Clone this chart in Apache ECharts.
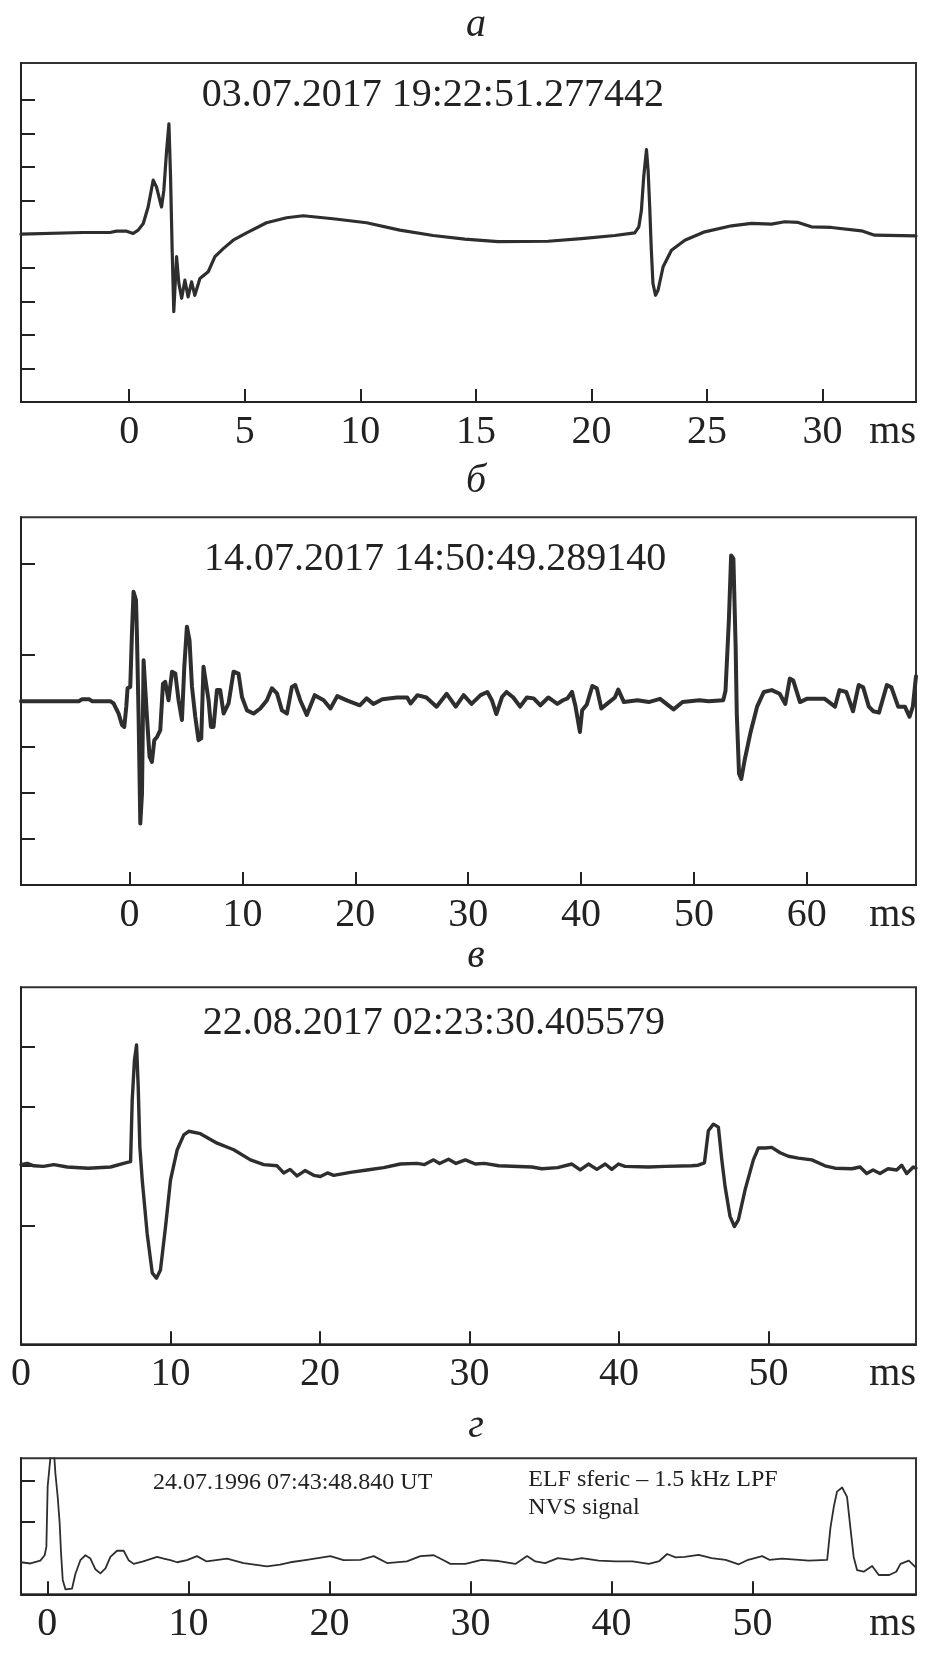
<!DOCTYPE html>
<html>
<head>
<meta charset="utf-8">
<script src="https://cdn.jsdelivr.net/npm/echarts@6/dist/echarts.min.js"></script>
<style>
html,body{margin:0;padding:0;background:#fff;}
#chart{width:930px;height:1654px;}
</style>
</head>
<body>
<div id="chart"></div>
<script>
// ---------- DATA (time in ms, amplitude in tick units) ----------
const panelLetters = ['а', 'б', 'в', 'г'];
const panelTitles = ['03.07.2017 19:22:51.277442', '14.07.2017 14:50:49.289140', '22.08.2017 02:23:30.405579', '24.07.1996 07:43:48.840 UT'];
const panelDNotes = ['ELF sferic – 1.5 kHz LPF', 'NVS signal'];
const unitLabel = 'ms';

const aXTicks = [0, 5, 10, 15, 20, 25, 30];
const bXTicks = [0, 10, 20, 30, 40, 50, 60];
const cXTicks = [0, 10, 20, 30, 40, 50];
const dXTicks = [0, 10, 20, 30, 40, 50];
const aYTicks = [-4, -3, -2, -1, 0, 1, 2, 3, 4];
const bYTicks = [-3, -2, -1, 0, 1, 3];
const cYTicks = [-1, 0, 1, 2];
const dYTicks = [1, 2];

const aSignal = [[-4.68,0],[-2.0,0.05],[-0.83,0.05],[-0.55,0.09],[-0.11,0.09],[0.17,0.02],[0.39,0.12],[0.61,0.32],[0.82,0.81],[1.04,1.61],[1.18,1.41],[1.40,0.81],[1.50,1.31],[1.62,2.5],[1.72,3.29],[1.79,1.71],[1.86,-0.48],[1.93,-2.31],[2.05,-0.67],[2.15,-1.47],[2.27,-1.91],[2.41,-1.37],[2.55,-1.87],[2.70,-1.42],[2.84,-1.82],[3.06,-1.32],[3.42,-1.12],[3.71,-0.67],[4.07,-0.43],[4.50,-0.18],[5.08,0.04],[5.94,0.34],[6.81,0.49],[7.53,0.55],[8.82,0.46],[10.27,0.34],[11.71,0.12],[13.15,-0.04],[14.52,-0.15],[15.96,-0.22],[18.12,-0.21],[19.57,-0.13],[21.01,-0.04],[21.87,0.04],[22.05,0.22],[22.16,0.71],[22.26,1.71],[22.38,2.52],[22.45,1.90],[22.52,0.81],[22.59,-0.48],[22.66,-1.47],[22.77,-1.82],[22.88,-1.67],[23.10,-0.97],[23.46,-0.48],[24.04,-0.18],[24.90,0.07],[26.06,0.25],[26.92,0.32],[27.79,0.30],[28.36,0.37],[28.94,0.35],[29.51,0.22],[30.38,0.20],[31.68,0.10],[32.25,-0.03],[34.04,-0.05]];

const bSignal = [[-9.62,0],[-4.5,0],[-4.2,0.04],[-3.6,0.04],[-3.3,0],[-1.71,0],[-1.42,-0.05],[-0.97,-0.27],[-0.67,-0.52],[-0.47,-0.56],[-0.29,-0.12],[-0.18,0.28],[0.06,0.31],[0.21,1.47],[0.35,2.38],[0.57,2.20],[0.65,1.47],[0.80,-0.34],[0.95,-2.66],[1.10,-2.01],[1.24,0.89],[1.39,0.89],[1.54,-0.34],[1.77,-1.21],[1.98,-1.32],[2.19,-0.85],[2.43,-0.78],[2.72,-0.63],[2.96,0.38],[3.16,0.42],[3.45,0.02],[3.76,0.64],[4.05,0.60],[4.34,0.02],[4.64,-0.41],[4.85,0.75],[5.08,1.62],[5.31,1.33],[5.53,0.31],[5.82,-0.34],[6.11,-0.85],[6.35,-0.81],[6.55,0.75],[6.71,0.78],[7.00,0.02],[7.21,-0.56],[7.44,-0.56],[7.74,0.24],[8.03,0.24],[8.33,-0.27],[8.77,-0.05],[9.21,0.64],[9.65,0.60],[9.96,0.09],[10.40,-0.20],[10.98,-0.27],[11.58,-0.16],[12.17,0.02],[12.61,0.28],[13.06,0.17],[13.50,-0.20],[13.94,-0.27],[14.38,0.31],[14.68,0.35],[15.12,0.02],[15.7,-0.30],[16.4,0.13],[17.2,0.02],[17.8,-0.16],[18.4,0.11],[19.3,0.01],[20.4,-0.09],[21.0,0.06],[21.6,-0.06],[22.4,0.04],[23.7,0.08],[24.6,0.08],[24.9,-0.05],[25.5,0.13],[26.3,0.08],[27.2,-0.12],[28.1,0.16],[28.9,-0.12],[29.6,0.13],[30.3,-0.06],[31.1,0.13],[31.7,0.20],[32.1,0.02],[32.5,-0.28],[33.0,0.09],[33.4,0.20],[34.0,0.08],[34.6,-0.12],[35.2,0.08],[35.8,0.06],[36.4,-0.09],[37.1,0.08],[37.9,-0.06],[38.4,0.02],[38.8,0.06],[39.2,0.20],[39.5,-0.10],[39.9,-0.67],[40.1,-0.20],[40.5,-0.08],[41.0,0.33],[41.4,0.28],[41.8,-0.16],[42.3,-0.06],[43.0,0.08],[43.3,0.25],[43.8,-0.02],[45.0,0.02],[46.0,-0.02],[47.0,0.05],[48.2,-0.18],[49.0,-0.02],[50.5,0.02],[51.3,0.00],[52.6,0.02],[52.8,0.22],[53.1,1.76],[53.3,3.17],[53.5,3.10],[53.7,1.18],[53.8,-0.27],[54.0,-1.58],[54.2,-1.69],[54.5,-1.28],[55.0,-0.70],[55.6,-0.12],[56.2,0.20],[56.9,0.24],[57.6,0.16],[58.1,-0.06],[58.5,0.49],[58.8,0.45],[59.4,-0.02],[60.0,0.05],[61.6,0.05],[62.5,-0.12],[62.9,0.24],[63.5,0.20],[64.1,-0.22],[64.6,0.35],[65.0,0.30],[65.5,-0.12],[65.9,-0.22],[66.4,-0.25],[67.1,0.35],[67.5,0.30],[68.1,-0.12],[68.7,-0.12],[69.1,-0.34],[69.4,-0.12],[69.68,0.54]];

const cSignal = [[0,0.02],[0.42,0.04],[0.86,0.0],[1.5,-0.01],[2.2,0.02],[3.09,-0.02],[4.5,-0.04],[5.99,-0.02],[6.99,0.05],[7.33,0.07],[7.44,1.11],[7.59,1.78],[7.73,2.03],[7.84,1.33],[7.95,0.32],[8.11,-0.24],[8.44,-1.14],[8.78,-1.80],[9.06,-1.89],[9.33,-1.75],[9.67,-1.02],[10.0,-0.24],[10.45,0.27],[10.89,0.52],[11.22,0.58],[12.0,0.54],[13.12,0.38],[14.23,0.27],[15.35,0.10],[16.24,0.02],[17.13,0.0],[17.57,-0.12],[18.0,-0.06],[18.47,-0.17],[19.0,-0.08],[19.58,-0.16],[20.03,-0.18],[20.5,-0.12],[20.92,-0.16],[22.03,-0.11],[23.15,-0.07],[24.26,-0.03],[25.37,0.03],[26.49,0.04],[27.0,0.02],[27.6,0.10],[28.0,0.04],[28.6,0.11],[29.1,0.04],[29.72,0.10],[30.39,0.03],[31.0,0.04],[31.95,0.0],[34.18,-0.02],[34.85,-0.05],[35.9,-0.03],[36.85,0.03],[37.41,-0.07],[37.96,0.03],[38.52,-0.06],[39.08,0.03],[39.52,-0.06],[39.97,0.03],[40.4,-0.01],[41.97,-0.02],[43.1,-0.01],[44.87,0.00],[45.3,0.01],[45.72,0.05],[45.98,0.59],[46.32,0.70],[46.65,0.65],[46.88,0.10],[47.10,-0.35],[47.43,-0.85],[47.72,-1.02],[47.99,-0.91],[48.44,-0.40],[48.99,0.10],[49.33,0.30],[49.8,0.30],[50.22,0.31],[50.78,0.22],[51.33,0.16],[52.0,0.13],[52.9,0.10],[53.78,0.0],[54.45,-0.04],[55.57,-0.05],[56.13,-0.02],[56.57,-0.13],[57.0,-0.07],[57.46,-0.13],[58.0,-0.05],[58.58,-0.07],[58.91,0.01],[59.25,-0.13],[59.69,-0.02],[59.87,-0.04]];

const dSignal = [[-1.87,0.02],[-1.2,-0.01],[-0.50,0.06],[-0.19,0.19],[-0.07,0.40],[0.02,1.86],[0.16,1.90],[0.28,2.8],[0.45,2.8],[0.57,2.18],[0.73,1.62],[0.87,0.98],[0.97,0.24],[1.09,-0.41],[1.28,-0.64],[1.40,-0.66],[1.75,-0.62],[1.99,-0.26],[2.34,0.07],[2.70,0.19],[3.05,0.11],[3.40,-0.15],[3.76,-0.25],[4.12,-0.13],[4.47,0.15],[4.94,0.30],[5.41,0.30],[5.76,0.07],[6.12,-0.02],[6.8,0.04],[7.78,0.15],[8.25,0.11],[8.72,0.07],[9.2,0.02],[9.9,0.07],[10.61,0.17],[11.3,0.04],[12.74,0.11],[13.92,0.0],[15.58,-0.08],[16.5,-0.04],[17.23,0.02],[18.4,0.08],[20.07,0.17],[21.0,0.07],[22.2,0.08],[23.14,0.17],[24.09,0.0],[25.5,0.04],[26.45,0.17],[27.40,0.19],[28.1,0.07],[28.58,-0.02],[29.65,-0.02],[30.8,0.08],[32.0,0.05],[33.19,-0.02],[34.02,0.17],[34.6,0.04],[35.3,0.0],[36.2,0.12],[37.21,0.08],[37.9,0.12],[39.1,0.06],[40.3,0.04],[41.5,0.04],[42.65,-0.02],[43.4,0.05],[43.95,0.22],[44.55,0.14],[45.2,0.15],[46.19,0.20],[47.1,0.12],[48.1,0.08],[49.03,-0.03],[49.7,0.08],[50.69,0.17],[51.2,0.08],[52.1,0.11],[53.3,0.08],[54.0,0.06],[55.30,0.08],[55.53,0.85],[55.77,1.37],[56.0,1.74],[56.36,1.84],[56.71,1.61],[56.95,0.85],[57.18,0.15],[57.42,-0.17],[57.89,-0.21],[58.49,-0.07],[58.96,-0.29],[59.7,-0.29],[60.2,-0.21],[60.5,-0.02],[61.09,0.06],[61.6,-0.11]];

// ---------- LAYOUT ----------
const FONT = '"Liberation Serif", "Times New Roman", serif';
const INK = '#222';
const LINE = '#2e2e2e';

const panels = [
  { top: 63,     height: 339,   xMin: -4.68, xMax: 34.04, yMin: -5,    yMax: 5.1,  xTicks: aXTicks, xLabels: aXTicks, yTicks: aYTicks, data: aSignal, lw: 3.2 },
  { top: 517.3,  height: 367.7, xMin: -9.62, xMax: 69.68, yMin: -4,    yMax: 4,    xTicks: bXTicks, xLabels: bXTicks, yTicks: bYTicks, data: bSignal, lw: 4 },
  { top: 987.3,  height: 357,   xMin: 0,     xMax: 59.87, yMin: -3,    yMax: 3,    xTicks: cXTicks, xLabels: cXTicks, yTicks: cYTicks, data: cSignal, lw: 3.4 },
  { top: 1458.3, height: 136,   xMin: -1.87, xMax: 61.6,  yMin: -0.76, yMax: 2.55, xTicks: dXTicks, xLabels: dXTicks, yTicks: dYTicks, data: dSignal, lw: 1.8 }
];

const LABEL_MARGIN = 10;
const LABEL_SIZE = 40;

const grids = [], xAxes = [], yAxes = [], series = [], graphics = [];
panels.forEach((p, i) => {
  grids.push({ left: 21, right: 14, top: p.top, height: p.height, show: true, borderColor: '#333', borderWidth: 2, backgroundColor: 'transparent' });
  xAxes.push({
    type: 'value', gridIndex: i, min: p.xMin, max: p.xMax,
    axisLine: { show: true, onZero: false, lineStyle: { color: INK, width: 2 } },
    axisTick: { show: true, inside: true, length: 13, lineStyle: { color: INK, width: 2 }, customValues: p.xTicks },
    axisLabel: { show: true, customValues: p.xLabels, margin: LABEL_MARGIN, fontFamily: FONT, fontSize: LABEL_SIZE, color: INK },
    splitLine: { show: false }
  });
  yAxes.push({
    type: 'value', gridIndex: i, min: p.yMin, max: p.yMax,
    axisLine: { show: true, onZero: false, lineStyle: { color: INK, width: 2 } },
    axisTick: { show: true, inside: true, length: 14, lineStyle: { color: INK, width: 2 }, customValues: p.yTicks },
    axisLabel: { show: false },
    splitLine: { show: false }
  });
  series.push({
    type: 'line', xAxisIndex: i, yAxisIndex: i, data: p.data,
    showSymbol: false, symbol: 'none', clip: true, silent: true,
    lineStyle: { color: LINE, width: p.lw, join: 'round', cap: 'round' }
  });
  // unit label at the right end of the x axis
  graphics.push({
    type: 'text', x: 916, y: p.top + p.height + LABEL_MARGIN + LABEL_SIZE / 2,
    style: { text: unitLabel, font: LABEL_SIZE + 'px ' + FONT, fill: INK, align: 'right', verticalAlign: 'middle' }
  });
});

// panel letters
const letterY = [25.7, 481.4, 956.4, 1426.4];
panelLetters.forEach((t, i) => {
  graphics.push({ type: 'text', x: 476, y: letterY[i],
    style: { text: t, font: 'italic 40px ' + FONT, fill: INK, align: 'center', verticalAlign: 'middle' } });
});
// panel titles
const titlePos = [[201.7, 95, 40], [204, 559, 40], [202.7, 1023.3, 40], [153, 1483, 24]];
panelTitles.forEach((t, i) => {
  const [x, y, s] = titlePos[i];
  graphics.push({ type: 'text', x: x, y: y,
    style: { text: t, font: s + 'px ' + FONT, fill: INK, align: 'left', verticalAlign: 'middle' } });
});
graphics.push({ type: 'text', x: 528.3, y: 1480, style: { text: panelDNotes[0], font: '24px ' + FONT, fill: INK, align: 'left', verticalAlign: 'middle' } });
graphics.push({ type: 'text', x: 528.3, y: 1508, style: { text: panelDNotes[1], font: '24px ' + FONT, fill: INK, align: 'left', verticalAlign: 'middle' } });

const chart = echarts.init(document.getElementById('chart'), null, { renderer: 'canvas' });
chart.setOption({
  animation: false,
  backgroundColor: '#fff',
  grid: grids,
  xAxis: xAxes,
  yAxis: yAxes,
  series: series,
  graphic: graphics
});
</script>
</body>
</html>
